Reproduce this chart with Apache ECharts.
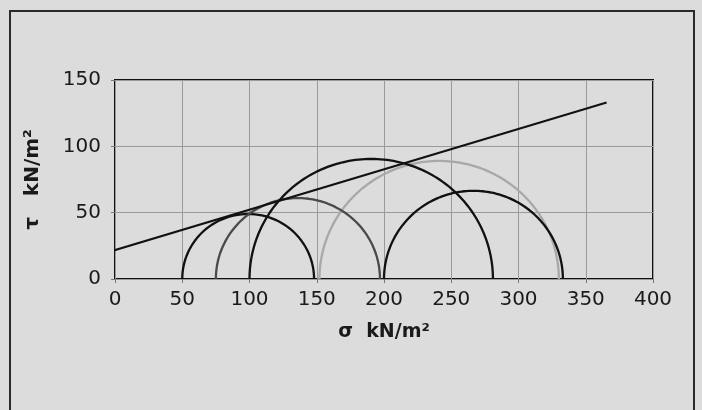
<!DOCTYPE html>
<html>
<head>
<meta charset="utf-8">
<script src="https://cdn.jsdelivr.net/npm/echarts@6/dist/echarts.min.js"></script>
<style>
  html, body { margin: 0; padding: 0; background: #dcdcdc; }
  #chart { width: 702px; height: 410px; }
</style>
</head>
<body>
<div id="chart"></div>
<script>
// Mohr circles: minor and major principal stresses (kN/m2)
const sigma3 = [50, 75, 100, 152, 200];
const sigma1 = [148, 197, 281, 330, 333];
const circleColors = ['#111111', '#4a4a4a', '#111111', '#a8a8a8', '#111111'];
// Failure envelope end points [sigma, tau]
const envelope = [[-7.5, 19.5], [365.5, 133]];
// Axis ticks
const xTicks = [0, 50, 100, 150, 200, 250, 300, 350, 400];
const yTicks = [0, 50, 100, 150];

function semicircle(s3, s1) {
  const c = (s1 + s3) / 2, r = (s1 - s3) / 2, pts = [];
  const n = 120;
  for (let i = 0; i <= n; i++) {
    const t = Math.PI - Math.PI * i / n;
    pts.push([c + r * Math.cos(t), r * Math.sin(t)]);
  }
  return pts;
}

const series = sigma3.map((s3, i) => ({
  type: 'line',
  data: semicircle(s3, sigma1[i]),
  showSymbol: false,
  symbol: 'none',
  lineStyle: { color: circleColors[i], width: 2.3 },
  z: i === 3 ? 2 : 3,
  silent: true
}));
series.push({
  type: 'line',
  data: envelope,
  showSymbol: false,
  symbol: 'none',
  clip: false,
  lineStyle: { color: '#111111', width: 2 },
  z: 4,
  silent: true
});

const labelFont = 'DejaVu Sans, Liberation Sans, Arial, sans-serif';
const chart = echarts.init(document.getElementById('chart'), null, { renderer: 'canvas' });
chart.setOption({
  backgroundColor: '#dcdcdc',
  animation: false,
  textStyle: { fontFamily: labelFont },
  graphic: [{
    type: 'rect',
    shape: { x: 10, y: 11, width: 684, height: 440 },
    style: { fill: 'none', stroke: '#2a2a2a', lineWidth: 2 },
    silent: true
  }],
  grid: {
    left: 115, right: 49, top: 80, bottom: 131,
    show: true, borderColor: '#111', borderWidth: 2, backgroundColor: 'transparent'
  },
  xAxis: {
    type: 'value', min: xTicks[0], max: xTicks[xTicks.length - 1], interval: 50,
    name: 'σ  kN/m²', nameLocation: 'middle', nameGap: 44,
    nameTextStyle: { fontSize: 19, fontWeight: 'bold', color: '#1a1a1a', fontFamily: labelFont },
    axisLine: { show: false },
    axisTick: { show: true, length: 4, lineStyle: { color: '#777' } },
    axisLabel: { fontSize: 20, color: '#1a1a1a', margin: 11, fontFamily: labelFont },
    splitLine: { show: true, lineStyle: { color: '#9a9a9a', width: 1 } }
  },
  yAxis: {
    type: 'value', min: yTicks[0], max: yTicks[yTicks.length - 1], interval: 50,
    name: 'τ   kN/m²', nameLocation: 'middle', nameGap: 72, nameRotate: 90,
    nameTextStyle: { fontSize: 20, fontWeight: 'bold', color: '#1a1a1a', fontFamily: labelFont },
    axisLine: { show: false },
    axisTick: { show: true, length: 4, lineStyle: { color: '#777' } },
    axisLabel: { fontSize: 20, color: '#1a1a1a', margin: 14, fontFamily: labelFont },
    splitLine: { show: true, lineStyle: { color: '#9a9a9a', width: 1 } }
  },
  series: series
});
</script>
</body>
</html>
